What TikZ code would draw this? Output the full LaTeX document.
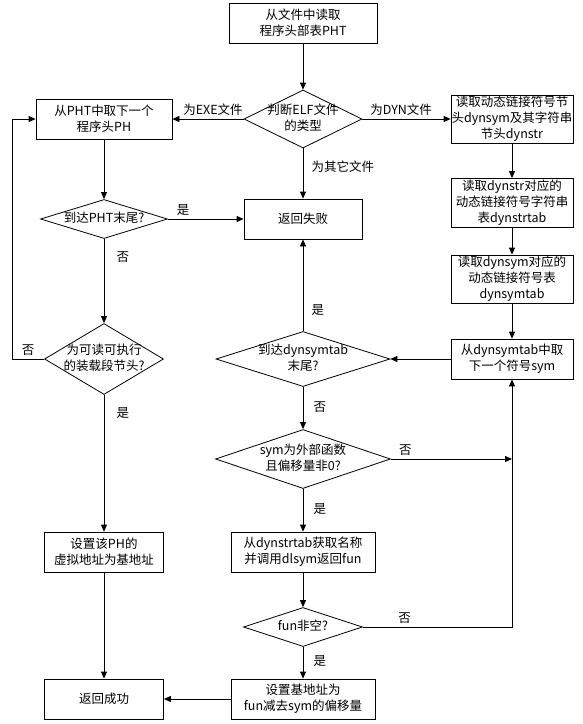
\documentclass[tikz,border=0pt]{standalone}
\usepackage{fontspec}
\setmainfont{Noto Sans CJK SC}
\usetikzlibrary{shapes.geometric,arrows.meta}
\newcommand{\dtext}[1]{\makebox[0pt]{\begin{tabular}{@{}c@{}}#1\end{tabular}}}

\begin{document}
\begin{tikzpicture}[->,>={Triangle[length=7pt,width=6pt]},x=1pt,y=1pt,
                    line width=0.8pt,font=\fontsize{12.5}{16}\selectfont]
  \tikzstyle{block}=[rectangle,draw,inner sep=0pt,align=center,
                     minimum width=119pt,minimum height=40pt]
  \tikzstyle{decision}=[diamond,draw,inner sep=0pt,aspect=2]

  \useasboundingbox (0,0) rectangle (582,-724);

  \node[block,minimum width=148pt] (A) at (303,-23) {从文件中读取\\程序头部表PHT};
  \node[decision,minimum width=118pt,minimum height=58pt] (B) [below of=A,node distance=96pt] {\dtext{判断ELF文件\\的类型}};
  \node[block,minimum width=136pt] (C) [left of=B,node distance=199pt] {从PHT中取下一个\\程序头PH};
  \node[block,minimum width=122pt,minimum height=48pt] (D) [right of=B,node distance=209pt] {读取动态链接符号节\\头dynsym及其字符串\\节头dynstr};
  \node[block,minimum width=118pt] (E) [below of=B,node distance=100pt] {返回失败};
  \node[decision,minimum width=127pt,minimum height=39pt] (F) [below of=C,node distance=100pt] {\dtext{到达PHT末尾?}};
  \node[block,minimum width=122pt,minimum height=49pt] (G) [below of=D,node distance=84pt] {读取dynstr对应的\\动态链接符号字符串\\表dynstrtab};
  \node[block,minimum width=122pt,minimum height=48pt] (H) [below of=G,node distance=76pt] {读取dynsym对应的\\动态链接符号表\\dynsymtab};
  \node[block,minimum width=122pt] (I) [below of=H,node distance=80pt] {从dynsymtab中取\\下一个符号sym};
  \node[decision,minimum width=119pt,minimum height=71pt] (J) [below of=F,node distance=140pt] {\dtext{为可读可执行\\的装载段节头?}};
  \node[decision,minimum width=174pt,minimum height=55pt] (K) [below of=E,node distance=140pt] {\dtext{到达dynsymtab\\末尾?}};
  \node[decision,minimum width=175pt,minimum height=59pt] (L) [below of=K,node distance=100pt] {\dtext{sym为外部函数\\且偏移量非0?}};
  \node[block] (M) [below of=J,node distance=193pt] {设置该PH的\\虚拟地址为基地址};
  \node[block,minimum width=144pt] (N) [below of=L,node distance=93pt] {从dynstrtab获取名称\\并调用dlsym返回fun};
  \node[decision,minimum width=119pt,minimum height=39pt] (O) [below of=N,node distance=75pt] {\dtext{fun非空?}};
  \node[block,minimum width=144pt] (P) [below of=O,node distance=72pt] {设置基地址为\\fun减去sym的偏移量};
  \node[block] (Q) [below of=M,node distance=147pt] {返回成功};

  \coordinate (R) at (12,-359);
  \coordinate (S) at (I |- L);

  \path (A) edge                                          (B)
        (B) edge node[above,pos=0.43]              {为EXE文件}  (C)
            edge node[above,pos=0.44]              {为DYN文件}  (D)
            edge node[right,pos=0.37,xshift=5pt]   {为其它文件} (E)
        (C) edge                                          (F)
        (F) edge node[above,pos=0.2]               {是}        (E)
            edge node[right,pos=0.22,xshift=9pt]   {否}        (J)
        (D) edge                                          (G)
        (G) edge                                          (H)
        (H) edge                                          (I)
        (I) edge                                          (K)
        (J) edge node[right,pos=0.13,xshift=9pt]   {是}        (M)
        (K) edge node[right,pos=0.23,xshift=5pt]   {是}        (E)
            edge node[right,pos=0.48,xshift=7pt]   {否}        (L)
        (L) edge node[above,pos=0.12]              {否}        (S)
            edge node[right,pos=0.48,xshift=7pt]   {是}        (N)
        (M) edge                                          (Q)
        (N) edge                                          (O)
        (O) edge node[right,pos=0.44,xshift=7pt]   {是}        (P)
        (P) edge                                          (Q);

  \draw (J) -- node[above] {否} (R) |- (C);
  \draw (O) -| node[above,pos=0.14] {否} (I);
\end{tikzpicture}
\end{document}
